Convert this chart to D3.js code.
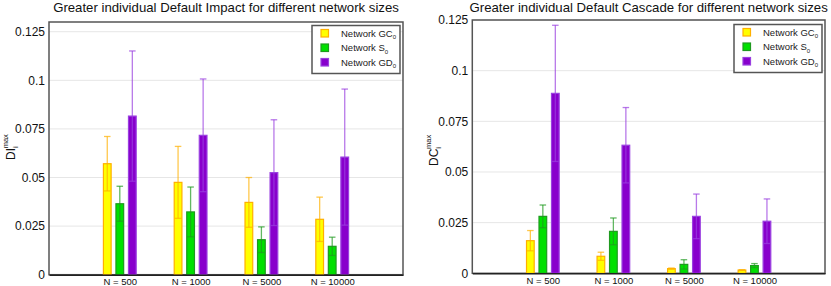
<!DOCTYPE html>
<html>
<head>
<meta charset="utf-8">
<script src="https://cdn.jsdelivr.net/npm/d3@7"></script>
<style>
  body { margin: 0; background: #fff; }
  svg { display: block; font-family: "Liberation Sans", Arial, sans-serif; }
</style>
</head>
<body>
<div id="chart"></div>
<script>
/* ============================================= */
/* Data */
/* ============================================= */

const sizeLabels = ["N = 500", "N = 1000", "N = 5000", "N = 10000"];
const seriesNames = ["GC", "S", "GD"];
const yTicks = [0, 0.025, 0.05, 0.075, 0.1, 0.125];
const yTickLabels = ["0", "0.025", "0.05", "0.075", "0.1", "0.125"];

// Greater individual Default Impact
const impactGC = [0.0571, 0.0475, 0.0372, 0.0285];
const impactGCErr = [0.0140, 0.0185, 0.0128, 0.0114];
const impactS = [0.0365, 0.0323, 0.0180, 0.0146];
const impactSErr = [0.0090, 0.0128, 0.0066, 0.0047];
const impactGD = [0.0816, 0.0717, 0.0525, 0.0605];
const impactGDErr = [0.0335, 0.0290, 0.0272, 0.0350];

// Greater individual Default Cascade
const cascadeGC = [0.0161, 0.0084, 0.0023, 0.0016];
const cascadeGCErr = [0.0050, 0.0020, 0.0003, 0.0002];
const cascadeS = [0.0281, 0.0207, 0.0044, 0.0038];
const cascadeSErr = [0.0056, 0.0066, 0.0023, 0.0010];
const cascadeGD = [0.0888, 0.0632, 0.0281, 0.0257];
const cascadeGDErr = [0.0336, 0.0186, 0.0110, 0.0110];

/* ============================================= */
/* Styles */
/* ============================================= */

const fills = { GC: "#ffff00", S: "#00e000", GD: "#8800cc" };
const strokes = { GC: "#ffb000", S: "#1f9a1f", GD: "#9a40e0" };
const offsets = { GC: -0.177, S: 0, GD: 0.177 };
const barW = 0.109; // in x units

const svg = d3.select("#chart").append("svg")
    .attr("width", 831)
    .attr("height", 286);

/* ============================================= */
/* Chart drawing */
/* ============================================= */

function drawChart(o) {
    const g = svg.append("g");
    const x = d3.scaleLinear().domain([0, 5]).range([o.left, o.right]);
    const y = d3.scaleLinear().domain([0, o.yMax]).range([o.bottom, o.top]);

    // grid lines
    g.append("g").selectAll("line")
        .data(yTicks.slice(1))
        .enter().append("line")
        .attr("x1", o.left).attr("x2", o.right)
        .attr("y1", d => y(d)).attr("y2", d => y(d))
        .style("stroke", "#e6e6e6")
        .style("stroke-width", 1);

    // frame
    g.append("rect")
        .attr("x", o.left).attr("y", o.top)
        .attr("width", o.right - o.left).attr("height", o.bottom - o.top)
        .style("fill", "none")
        .style("stroke", "#555")
        .style("stroke-width", 1.5);

    // bars + error bars
    const rows = [];
    seriesNames.forEach(s => {
        o.values[s].forEach((v, i) => rows.push({ s, i, v, e: o.errors[s][i] }));
    });

    const bw = x(barW) - x(0);
    g.append("g").selectAll("rect")
        .data(rows)
        .enter().append("rect")
        .attr("x", d => x(d.i + 1 + offsets[d.s]) - bw / 2)
        .attr("y", d => y(d.v))
        .attr("width", bw)
        .attr("height", d => y(0) - y(d.v))
        .style("fill", d => fills[d.s])
        .style("stroke", d => strokes[d.s])
        .style("stroke-width", 1.2);

    const capW = bw * 0.85;
    const err = g.append("g").selectAll("g")
        .data(rows)
        .enter().append("g")
        .style("stroke", d => strokes[d.s])
        .style("stroke-opacity", 0.7)
        .style("stroke-width", 1.3);
    err.append("line")
        .attr("x1", d => x(d.i + 1 + offsets[d.s]))
        .attr("x2", d => x(d.i + 1 + offsets[d.s]))
        .attr("y1", d => y(d.v - d.e))
        .attr("y2", d => y(d.v + d.e));
    [1, -1].forEach(sign => {
        err.append("line")
            .attr("x1", d => x(d.i + 1 + offsets[d.s]) - capW / 2)
            .attr("x2", d => x(d.i + 1 + offsets[d.s]) + capW / 2)
            .attr("y1", d => y(d.v + sign * d.e))
            .attr("y2", d => y(d.v + sign * d.e));
    });

    // axes
    const yAxis = g.append("g")
        .attr("transform", `translate(${o.left},0)`)
        .call(d3.axisLeft(y).tickValues(yTicks).tickSize(0).tickPadding(4)
            .tickFormat((d, i) => yTickLabels[i]));
    yAxis.select(".domain").remove();
    yAxis.selectAll("text").style("font-size", "12px").style("fill", "#111");

    const xAxis = g.append("g")
        .attr("transform", `translate(0,${o.bottom})`)
        .call(d3.axisBottom(x).tickValues([1, 2, 3, 4]).tickSize(0).tickPadding(4)
            .tickFormat(d => sizeLabels[d - 1]));
    xAxis.select(".domain").style("stroke", "#222").style("stroke-width", 1.5);
    xAxis.selectAll("text").style("font-size", "9.5px").style("fill", "#111");

    // title
    g.append("text")
        .attr("x", (o.left + o.right) / 2)
        .attr("y", 12)
        .attr("text-anchor", "middle")
        .style("font-size", "13.2px")
        .style("fill", "#111")
        .text(o.title);

    // y label
    const yl = g.append("text")
        .attr("transform", `translate(${o.labelX},${o.labelY}) rotate(-90)`)
        .style("font-size", "12px")
        .style("fill", "#111");
    yl.append("tspan").text(o.yLabel);
    yl.append("tspan").attr("dy", 3).style("font-size", "7.5px").text("i");
    yl.append("tspan").attr("dx", -2).attr("dy", -10).style("font-size", "7.5px").text("max");

    // legend
    const lg = g.append("g").attr("transform", `translate(${o.legX},${o.legY})`);
    lg.append("rect")
        .attr("width", o.legW).attr("height", 48)
        .style("fill", "#fff")
        .style("stroke", "#555")
        .style("stroke-width", 1.5);
    seriesNames.forEach((s, i) => {
        lg.append("rect")
            .attr("x", 9).attr("y", 4 + i * 14.5)
            .attr("width", 7.5).attr("height", 7.5)
            .style("fill", fills[s])
            .style("stroke", strokes[s])
            .style("stroke-width", 1.2);
        const t = lg.append("text")
            .attr("x", 29).attr("y", 11 + i * 14.5)
            .style("font-size", "9.5px")
            .style("fill", "#222");
        t.append("tspan").text("Network " + s);
        t.append("tspan").attr("dy", 2.5).style("font-size", "6px").text("0");
    });
}

drawChart({
    left: 49, right: 403, top: 22, bottom: 274.7, yMax: 0.13,
    values: { GC: impactGC, S: impactS, GD: impactGD },
    errors: { GC: impactGCErr, S: impactSErr, GD: impactGDErr },
    title: "Greater individual Default Impact for different network sizes",
    yLabel: "DI", labelX: 15, labelY: 160,
    legX: 312, legY: 25.5, legW: 88
});

drawChart({
    left: 472.3, right: 825, top: 20, bottom: 273.3, yMax: 0.125,
    values: { GC: cascadeGC, S: cascadeS, GD: cascadeGD },
    errors: { GC: cascadeGCErr, S: cascadeSErr, GD: cascadeGDErr },
    title: "Greater individual Default Cascade for different network sizes",
    yLabel: "DC", labelX: 438, labelY: 166,
    legX: 734, legY: 24.5, legW: 88
});
</script>
</body>
</html>
